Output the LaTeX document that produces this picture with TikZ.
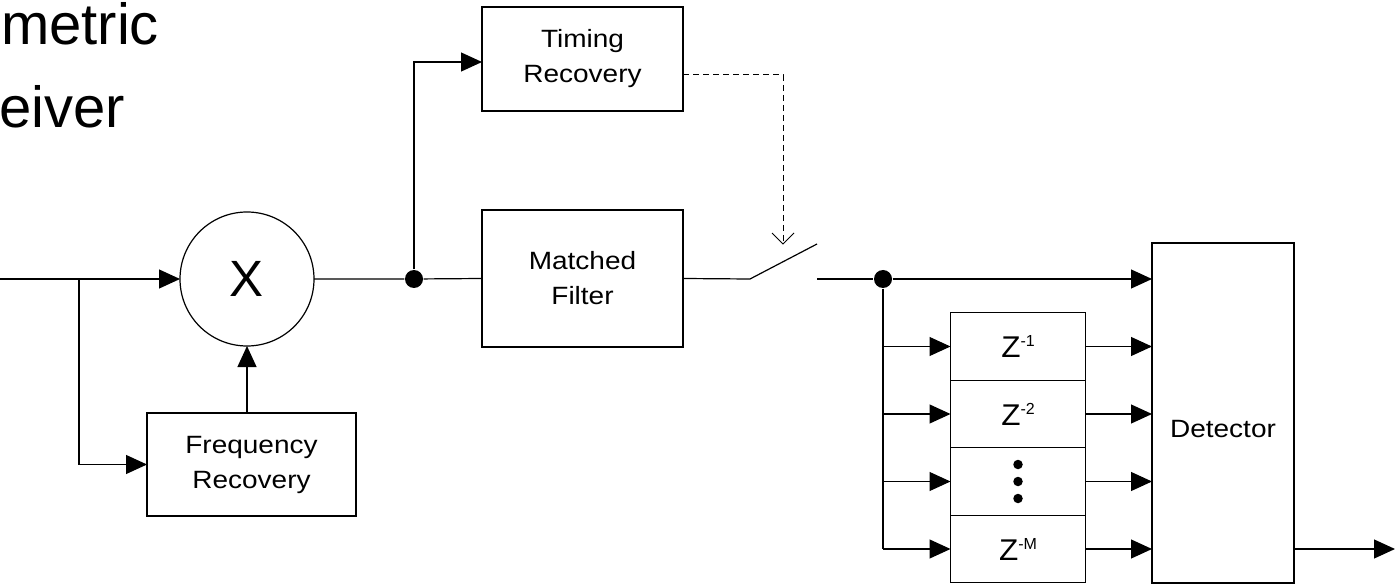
\documentclass[tikz,border=0pt]{standalone}
\usepackage{fontspec}
\setmainfont{Liberation Sans}
\usetikzlibrary{arrows.meta}
\newcommand{\zdel}[1]{\scalebox{1.05}[1]{Z}\raisebox{11pt}{\fontsize{16}{16}\selectfont #1}}
\newcommand{\wt}[1]{\scalebox{1.12}[1]{#1}}
\begin{document}
\begin{tikzpicture}[x=1pt,y=-1pt,
  line width=1.2pt,
  arr/.style={-{Triangle[length=21pt,width=19pt]}},
  box/.style={draw,rectangle,inner sep=0pt,outer sep=0pt,align=center,
    font=\fontsize{25}{35}\selectfont},
  dly/.style={box,minimum width=135pt,minimum height=67.5pt,font=\fontsize{30}{34}\selectfont},
  jdot/.style={circle,fill=black,inner sep=0pt,minimum size=18pt},
  title/.style={inner sep=0pt,font=\fontsize{58}{62}\selectfont}]
\useasboundingbox (0,0) rectangle (1395,585);
% title fragments
\node[title,anchor=base west] (t1) at (0.5,45) {metric};
\node[title,anchor=base west] (t2) at (-1.5,128) {eiver};
% blocks
\node[circle,draw,minimum size=134pt,inner sep=0pt,outer sep=0pt,font=\fontsize{51}{51}\selectfont] (mix) at (247,279) {X};
\node[box,minimum width=209pt,minimum height=103pt] (fr) at (251.5,464.5) {\wt{Frequency}\\\wt{Recovery}};
\node[box,minimum width=201pt,minimum height=104pt] (tr) at (582.5,59) {\wt{Timing}\\\wt{Recovery}};
\node[box,minimum width=201pt,minimum height=137pt] (mf) at (582.5,278.5) {\wt{Matched}\\\wt{Filter}};
\node[box,minimum width=142pt,minimum height=340pt,text height=54pt,text depth=5pt] (det) at (1223,413) {\wt{Detector}};
\node[dly] (d1) at (1018,346.5) {\zdel{-1}};
\node[dly] (d2) at (1018,414) {\zdel{-2}};
\node[dly] (d3) at (1018,481.5) {};
\node[dly] (d4) at (1018,549) {\zdel{-M}};
\foreach \yy [count=\i] in {-17,0,17} {
  \node[circle,fill=black,inner sep=0pt,minimum size=9.5pt] (dd\i) at ([yshift=\yy pt]d3.center) {};
}
% junction dots and coordinates
\coordinate (in) at (0,279);
\coordinate (j1) at (79,279);
\node[jdot] (dot1) at (414,279) {};
\node[jdot] (dot2) at (883,279) {};
\coordinate (s1) at (750,279);
\coordinate (s2) at (817,244);
\coordinate (s3) at (817,279);
\coordinate (dk) at (783,75);
\coordinate (dtip) at (783,244);
\coordinate (out) at (1395,549);
\coordinate (trin) at (482,62);
% connectors
\draw[arr] (in) -- (mix.west);
\draw[arr] (j1) |- (fr.west);
\draw[arr] (fr.north -| mix.south) -- (mix.south);
\draw (mix.east) -- (dot1) -- (mf.west);
\draw[arr] (dot1) |- (trin);
\draw (mf.east) -- (s1) -- (s2);
\draw[dash pattern=on 6pt off 4pt,line width=1pt] (tr.east |- dk) -- (dk) -- ([yshift=2pt]dtip);
\draw[line width=1pt] ([xshift=-11pt,yshift=11pt]dtip) -- (dtip) -- ([xshift=11pt,yshift=11pt]dtip);
\draw (s3) -- (dot2);
\draw[arr] (dot2) -- (dot2 -| det.west);
\draw (dot2) -- (dot2 |- d4.west);
\foreach \d in {d1,d2,d3,d4} {
  \draw[arr] (dot2 |- \d.west) -- (\d.west);
  \draw[arr] (\d.east) -- (\d.east -| det.west);
}
\draw[arr] (det.east |- d4.east) -- (out);
\end{tikzpicture}
\end{document}
